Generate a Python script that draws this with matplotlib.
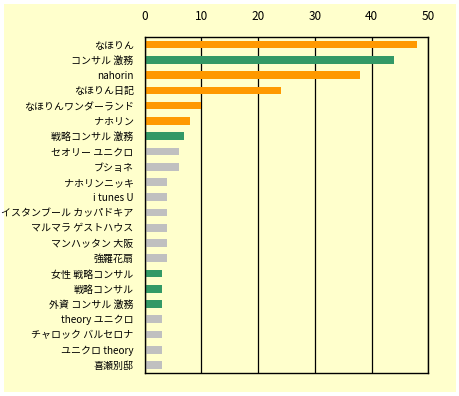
import matplotlib
matplotlib.use('Agg')
import matplotlib.pyplot as plt
from matplotlib.patches import Rectangle

plt.rcParams['font.family'] = ['Noto Sans CJK JP', 'DejaVu Sans']

labels = ['なほりん', 'コンサル 激務', 'nahorin', 'なほりん日記', 'なほりんワンダーランド',
          'ナホリン', '戦略コンサル 激務', 'セオリー ユニクロ', 'ブショネ', 'ナホリンニッキ',
          'i tunes U', 'イスタンブール カッパドキア', 'マルマラ ゲストハウス', 'マンハッタン 大阪',
          '強羅花扇', '女性 戦略コンサル', '戦略コンサル', '外資 コンサル 激務',
          'theory ユニクロ', 'チャロック バルセロナ', 'ユニクロ theory', '喜瀬別邸']
values = [48, 44, 38, 24, 10, 8, 7, 6, 6, 4, 4, 4, 4, 4, 4, 3, 3, 3, 3, 3, 3, 3]
groups = ['o', 'g', 'o', 'o', 'o', 'o', 'g', 'x', 'x', 'x', 'x', 'x', 'x', 'x',
          'x', 'g', 'g', 'g', 'x', 'x', 'x', 'x']
palette = {'o': '#FF9900', 'g': '#339966', 'x': '#C0C0C0'}

fig = plt.figure(figsize=(4.6, 3.96), dpi=100, facecolor='white')
fig.patches.append(Rectangle((4 / 460, 4 / 396), 452 / 460, 388 / 396,
                             transform=fig.transFigure, facecolor='#FFFFCC',
                             edgecolor='none', zorder=0))

ax = fig.add_axes([144.7 / 460, 1 - 372.7 / 396, 283.6 / 460, 335.7 / 396])
ax.set_zorder(2)
ax.set_facecolor('#FFFFCC')

ypos = list(range(len(labels)))
ax.barh(ypos, values, height=0.5, color=[palette[g] for g in groups], zorder=2)
ax.set_ylim(len(labels) - 0.5, -0.5)
ax.set_xlim(0, 50)
ax.set_xticks([0, 10, 20, 30, 40, 50])
ax.xaxis.tick_top()
ax.tick_params(axis='x', length=0, pad=10, labelsize=8.5)
ax.tick_params(axis='y', length=0, pad=8, labelsize=7.2)
ax.set_yticks(ypos)
ax.set_yticklabels(labels)
ax.grid(axis='x', color='black', linewidth=0.9, zorder=1)
for s in ax.spines.values():
    s.set_linewidth(1.0)
    s.set_color('black')

fig.savefig('out.png', dpi=100, facecolor='white')
